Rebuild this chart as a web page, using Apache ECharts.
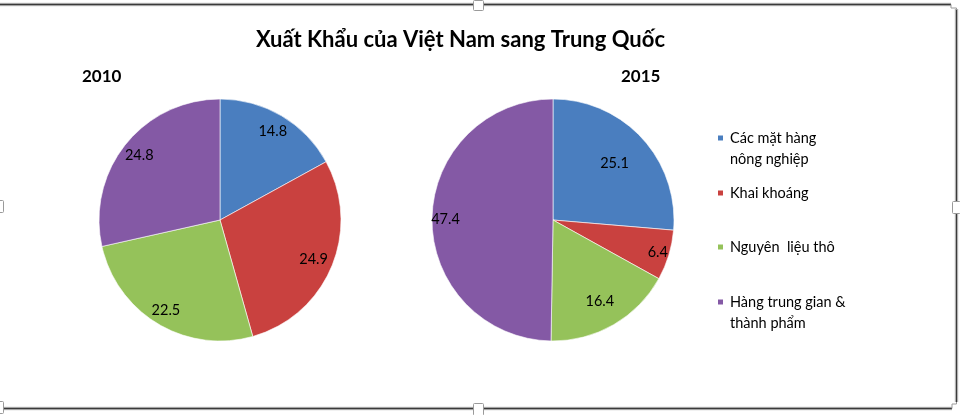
<!DOCTYPE html>
<html>
<head>
<meta charset="utf-8">
<script src="https://cdn.jsdelivr.net/npm/echarts@6/dist/echarts.min.js"></script>
<style>
html,body{margin:0;padding:0;background:#fff;}
#chart{width:960px;height:415px;}
</style>
</head>
<body>
<div id="chart"></div>
<script>
const chartTitle = 'Xuất Khẩu của Việt Nam sang Trung Quốc';
const years = ['2010', '2015'];
const categories = ['Các mặt hàng\nnông nghiệp', 'Khai khoáng', 'Nguyên  liệu thô', 'Hàng trung gian &\nthành phẩm'];
const values2010 = [14.8, 24.9, 22.5, 24.8];
const values2015 = [25.1, 6.4, 16.4, 47.4];
const colors = ['#4A7EBF', '#C9413F', '#95C25A', '#8459A5'];

const FONT = 'Lato';
const chart = echarts.init(document.getElementById('chart'));

const pieCenters = [[220, 220], [553, 220]];
const allValues = [values2010, values2015];
const R = 121;
// inner radius of the (invisible) ring used to place each slice's label
const labelRingInner = [[80, 76, 84, 80], [40, 92, 60, 88]];

function toData(vals, showIdx) {
  return categories.map((c, i) => {
    const d = { name: c, value: vals[i] };
    if (showIdx) d.label = { show: showIdx.indexOf(i) >= 0 };
    return d;
  });
}

const series = [];
allValues.forEach((vals, k) => {
  series.push({
    type: 'pie',
    center: pieCenters[k],
    radius: [0, R],
    startAngle: 90,
    clockwise: true,
    data: toData(vals),
    label: { show: false },
    labelLine: { show: false },
    itemStyle: { borderColor: '#ffffff', borderWidth: 0.6 },
    emphasis: { disabled: true },
    animation: false
  });
});
allValues.forEach((vals, k) => {
  const rings = labelRingInner[k];
  const distinct = rings.filter((v, i) => rings.indexOf(v) === i);
  distinct.forEach(r0 => {
    const idx = [];
    rings.forEach((v, i) => { if (v === r0) idx.push(i); });
    series.push({
      type: 'pie',
      center: pieCenters[k],
      radius: [r0, R],
      startAngle: 90,
      clockwise: true,
      data: toData(vals, idx),
      silent: true,
      legendHoverLink: false,
      itemStyle: { color: 'rgba(0,0,0,0)' },
      label: {
        show: true, position: 'inside', color: '#000',
        fontFamily: FONT, fontSize: 14.5,
        formatter: p => p.value.toFixed(1)
      },
      labelLine: { show: false },
      emphasis: { disabled: true },
      animation: false
    });
  });
});

const legendTops = [126.5, 182.5, 236.5, 290.5];
const twoLineIcon = 'path://M0,0L0,0M0,7L7,7L7,14L0,14ZM0,42L0,42';
const legends = categories.map((c, i) => {
  const two = c.indexOf('\n') >= 0;
  return {
    orient: 'vertical',
    left: 716,
    top: legendTops[i],
    padding: 0,
    itemWidth: 7,
    itemHeight: two ? 42 : 7,
    itemGap: 0,
    icon: two ? twoLineIcon : 'rect',
    selectedMode: false,
    data: [c],
    textStyle: { fontFamily: FONT, fontSize: 14.5, lineHeight: 21, color: '#000', padding: [0, 0, 0, 1] }
  };
});

function frameLine(x1, y1, x2, y2) {
  return [
    { type: 'line', shape: { x1, y1, x2, y2 }, style: { stroke: '#c8c8c8', lineWidth: 3.5 }, silent: true },
    { type: 'line', shape: { x1, y1, x2, y2 }, style: { stroke: '#3a3a3a', lineWidth: 1.3 }, silent: true }
  ];
}
function handle(x, y, w, h) {
  return { type: 'rect', shape: { x, y, width: w, height: h, r: 1 }, style: { fill: '#fff', stroke: '#9a9a9a', lineWidth: 1 }, silent: true, z: 10 };
}

const graphics = [].concat(
  frameLine(0, 4.5, 951, 4.5),
  frameLine(956.5, 9, 956.5, 402),
  frameLine(3, 408.5, 952, 408.5),
  [
    { type: 'polyline', shape: { points: [[951, 4.5], [951, 8], [956.5, 8], [956.5, 10]] }, style: { stroke: '#9a9a9a', lineWidth: 1, fill: null }, silent: true },
    { type: 'polyline', shape: { points: [[952, 408.5], [952, 404], [956.5, 404], [956.5, 402]] }, style: { stroke: '#9a9a9a', lineWidth: 1, fill: null }, silent: true },
    handle(473.5, 0.5, 10, 10),
    handle(473.5, 403.5, 10, 12),
    handle(-3.5, 200.5, 7, 12),
    handle(952.5, 201.5, 8, 12),
    handle(-3.5, 401.5, 7, 12)
  ]
);

chart.setOption({
  backgroundColor: '#ffffff',
  color: colors,
  animation: false,
  title: [
    { text: chartTitle, left: 256, top: 29, padding: 0,
      textStyle: { fontFamily: FONT, fontSize: 22, fontWeight: 'bold', color: '#000' } },
    { text: years[0], left: 82, top: 68, padding: 0,
      textStyle: { fontFamily: FONT, fontSize: 17, fontWeight: 'bold', color: '#000' } },
    { text: years[1], left: 621, top: 68, padding: 0,
      textStyle: { fontFamily: FONT, fontSize: 17, fontWeight: 'bold', color: '#000' } }
  ],
  legend: legends,
  series: series,
  graphic: graphics
});
</script>
</body>
</html>
